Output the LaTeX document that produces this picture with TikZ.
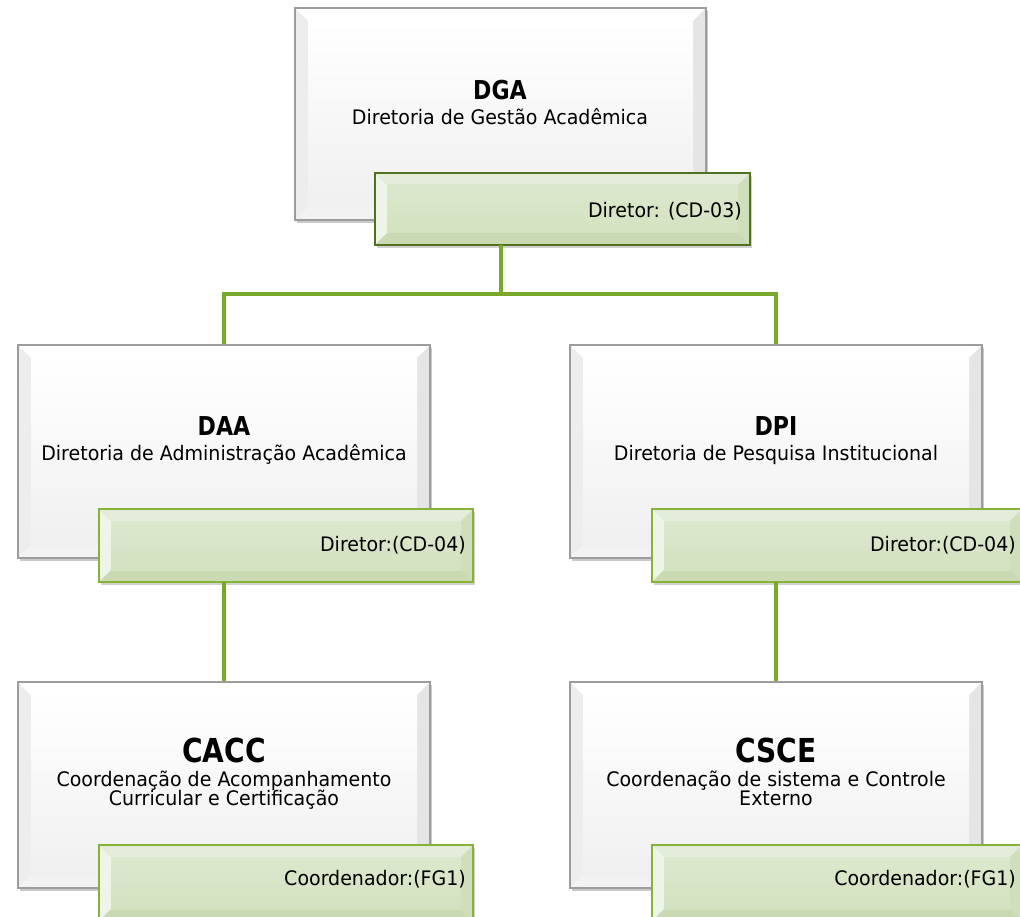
\documentclass[tikz,border=0pt]{standalone}
\usepackage{fontspec}
\setmainfont{DejaVu Sans}
\newfontfamily\ttlfont[FakeStretch=0.85]{DejaVu Sans}
\newfontfamily\subfont[FakeStretch=0.95]{DejaVu Sans}
\usetikzlibrary{calc,shadows}
\definecolor{lineG}{HTML}{79A92B}
\definecolor{darkG}{HTML}{52711F}
\definecolor{midG}{HTML}{86B236}
\definecolor{faceG}{HTML}{DCE8CD}
\definecolor{faceGb}{HTML}{D3E2C0}
\definecolor{bevL}{HTML}{EEF4E7}
\definecolor{bevT}{HTML}{E4EDD9}
\definecolor{bevR}{HTML}{CFDFBC}
\definecolor{bevB}{HTML}{C9DAB3}
\definecolor{wBorder}{HTML}{9C9C9C}

\newcommand\mybevel[6]{%
  \coordinate (pNW) at (path picture bounding box.north west);
  \coordinate (pNE) at (path picture bounding box.north east);
  \coordinate (pSW) at (path picture bounding box.south west);
  \coordinate (pSE) at (path picture bounding box.south east);
  \coordinate (iNW) at ($(pNW)+(#1,#1)$);
  \coordinate (iNE) at ($(pNE)+(-#1,#1)$);
  \coordinate (iSW) at ($(pSW)+(#1,-#1)$);
  \coordinate (iSE) at ($(pSE)+(-#1,-#1)$);
  \fill[#2] (pNW)--(pSW)--(iSW)--(iNW)--cycle;
  \fill[#3] (pNW)--(pNE)--(iNE)--(iNW)--cycle;
  \fill[#4] (pNE)--(pSE)--(iSE)--(iNE)--cycle;
  \fill[#5] (pSW)--(pSE)--(iSE)--(iSW)--cycle;
  \shade[#6] (iNW) rectangle (iSE);
}

\tikzset{
  conn/.style={draw=lineG, line width=4pt},
  wbox/.style={draw=wBorder, line width=1.3pt, fill=white, inner sep=0pt, outer sep=0pt,
    anchor=north west,
    drop shadow={shadow xshift=2pt, shadow yshift=-3pt, opacity=.35, fill=black!60},
    path picture={\mybevel{13}{black!7}{white}{black!10}{black!5}{top color=white,bottom color=black!6}}},
  gbox/.style={line width=1.6pt, fill=faceG, inner sep=0pt, outer sep=0pt,
    anchor=north west,
    drop shadow={shadow xshift=2pt, shadow yshift=-3pt, opacity=.3, fill=black!60},
    path picture={\mybevel{12}{bevL}{bevT}{bevR}{bevB}{top color=faceG,bottom color=faceGb}}},
  ttl/.style={font=\ttlfont\bfseries\fontsize{26}{30}\selectfont, inner sep=0pt, anchor=base},
  bigttl/.style={font=\ttlfont\bfseries\fontsize{33}{38}\selectfont, inner sep=0pt, anchor=base},
  sub/.style={font=\subfont\fontsize{20}{22}\selectfont, inner sep=0pt, anchor=base},
  gtxt/.style={font=\subfont\fontsize{20}{22}\selectfont, inner sep=0pt, anchor=east},
}

\begin{document}
\begin{tikzpicture}[x=1pt,y=-1pt]
\useasboundingbox (0,0) rectangle (1020,917);

% boxes
\node[wbox, minimum width=411pt, minimum height=212pt] (dga) at (295,8) {};
\node[wbox, minimum width=412pt, minimum height=213pt] (daa) at (18,345) {};
\node[wbox, minimum width=412pt, minimum height=213pt] (dpi) at (570,345) {};
\node[wbox, minimum width=412pt, minimum height=206pt] (cacc) at (18,682) {};
\node[wbox, minimum width=412pt, minimum height=206pt] (csce) at (570,682) {};

\coordinate (split) at ($(dga.south)+(0,74)$);

\node[gbox, draw=darkG, minimum width=375pt, minimum height=72pt] (dgaD) at (375,173) {};
\node[gbox, draw=midG, minimum width=374pt, minimum height=73pt] (daaD) at (99,509) {};
\node[gbox, draw=midG, minimum width=370pt, minimum height=73pt] (dpiD) at (652,509) {};
\node[gbox, draw=midG, minimum width=374pt, minimum height=76pt] (caccD) at (99,845) {};
\node[gbox, draw=midG, minimum width=370pt, minimum height=76pt] (csceD) at (652,845) {};

% texts
\node[ttl] (dgaT) at (500,100) {DGA};
\node[sub] (dgaS) at (500,125) {Diretoria de Gestão Acadêmica};
\node[gtxt] (dgaDt) at ($(dgaD.east)+(-8,2)$) {Diretor: (CD-03)};

\node[ttl] (daaT) at (224,435) {DAA};
\node[sub] (daaS) at (224,460) {Diretoria de Administração Acadêmica};
\node[gtxt] (daaDt) at ($(daaD.east)+(-7,0)$) {Diretor:(CD-04)};

\node[ttl] (dpiT) at (776,435) {DPI};
\node[sub] (dpiS) at (776,460) {Diretoria de Pesquisa Institucional};
\node[gtxt] (dpiDt) at ($(dpiD.east)+(-6,0)$) {Diretor:(CD-04)};

\node[bigttl] (caccT) at (224,762) {CACC};
\node[sub] (caccS1) at (224,786) {Coordenação de Acompanhamento};
\node[sub] (caccS2) at (224,805) {Curricular e Certificação};
\node[gtxt] (caccDt) at ($(caccD.east)+(-7,-4)$) {Coordenador:(FG1)};

\node[bigttl] (csceT) at (776,762) {CSCE};
\node[sub] (csceS1) at (776,786) {Coordenação de sistema e Controle};
\node[sub] (csceS2) at (776,805) {Externo};
\node[gtxt] (csceDt) at ($(csceD.east)+(-6,-4)$) {Coordenador:(FG1)};

% connectors: visible segments between boxes
\draw[conn] (dga.south |- dgaD.south) -- (split);
\draw[conn] ($(daa.north)+(0,-1)$) |- (split) -| ($(dpi.north)+(0,-1)$);
\draw[conn] (daa.south |- daaD.south) -- ($(cacc.north)+(0,-1)$);
\draw[conn] (dpi.south |- dpiD.south) -- ($(csce.north)+(0,-1)$);
\end{tikzpicture}
\end{document}
